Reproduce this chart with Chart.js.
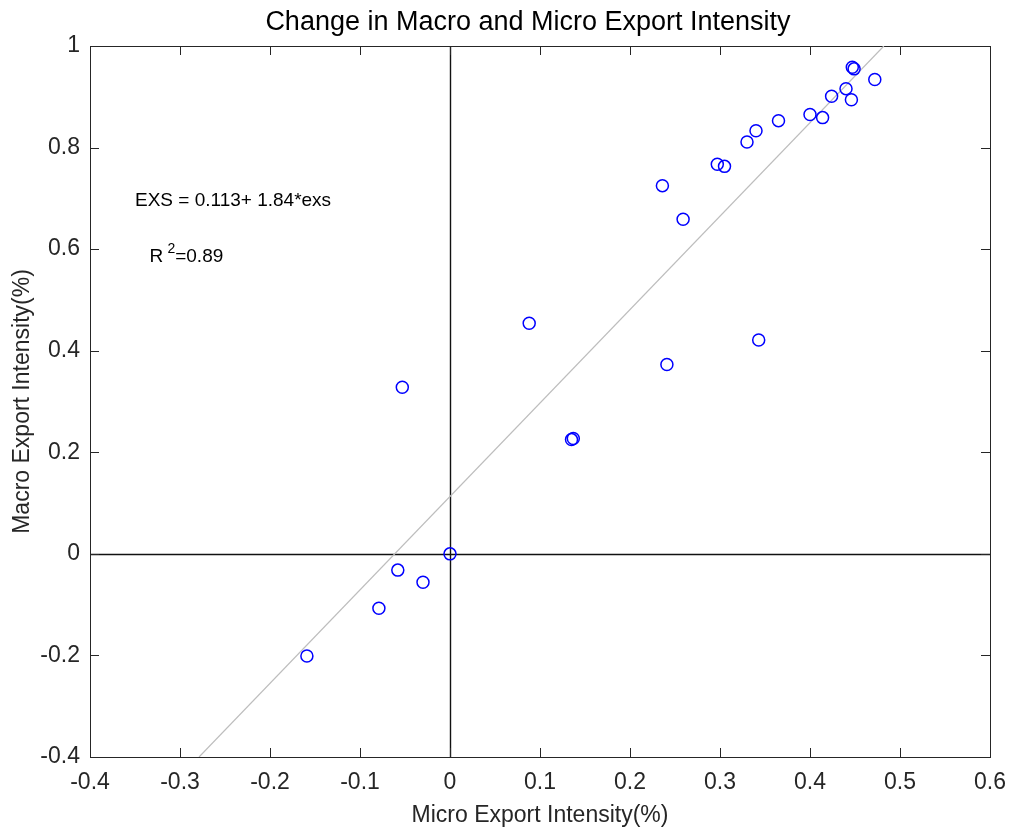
<!DOCTYPE html>
<html lang="en">
  <head>
    <meta charset="utf-8" />
    <title>Change in Macro and Micro Export Intensity</title>
    <style>
      * {
        margin: 0;
        padding: 0;
      }
      body {
        background: #fff;
      }
    </style>
  </head>
  <body>
    <canvas id="myChart" width="1013" height="836"></canvas>

    <script src="https://cdn.jsdelivr.net/npm/chart.js"></script>

    <script>
      // data block
      const microX = [
        0.447, 0.449, 0.472, 0.44, 0.446, 0.424, 0.4, 0.414, 0.365, 0.34, 0.33,
        0.297, 0.305, 0.236, 0.259, 0.088, -0.053, 0.135, 0.137, 0.343, 0.241,
        0, -0.058, -0.03, -0.079, -0.159,
      ];
      const macroY = [
        0.958, 0.955, 0.934, 0.916, 0.894, 0.901, 0.865, 0.859, 0.853, 0.833,
        0.811, 0.767, 0.763, 0.725, 0.659, 0.454, 0.328, 0.225, 0.227, 0.421,
        0.373, 0, -0.032, -0.056, -0.107, -0.201,
      ];
      // fitted line EXS = a + b*exs
      const fitIntercept = 0.113;
      const fitSlope = 1.84;

      const xTicks = [-0.4, -0.3, -0.2, -0.1, 0, 0.1, 0.2, 0.3, 0.4, 0.5, 0.6];
      const xTickLabels = ["-0.4", "-0.3", "-0.2", "-0.1", "0", "0.1", "0.2", "0.3", "0.4", "0.5", "0.6"];
      const yTicks = [-0.4, -0.2, 0, 0.2, 0.4, 0.6, 0.8, 1];
      const yTickLabels = ["-0.4", "-0.2", "0", "0.2", "0.4", "0.6", "0.8", "1"];

      const FONT = "'Liberation Sans', Arial, sans-serif";
      const AXIS_COLOR = "#262626";

      const points = microX.map((x, i) => ({ x, y: macroY[i] }));
      const yMin = yTicks[0];
      const yMax = yTicks[yTicks.length - 1];
      const fitLine = [
        { x: (yMin - fitIntercept) / fitSlope, y: yMin },
        { x: (yMax - fitIntercept) / fitSlope, y: yMax },
      ];

      // frame, zero lines, inward ticks, title and equation text
      const matlabAxes = {
        id: "matlabAxes",
        beforeDatasetsDraw(chart) {
          const {
            ctx,
            chartArea: { left, right, top, bottom },
            scales: { x, y },
          } = chart;
          ctx.save();

          // zero lines
          ctx.strokeStyle = "#111";
          ctx.lineWidth = 1.4;
          ctx.beginPath();
          const x0 = Math.round(x.getPixelForValue(0)) + 0.5;
          const y0 = Math.round(y.getPixelForValue(0)) + 0.5;
          ctx.moveTo(x0, top);
          ctx.lineTo(x0, bottom);
          ctx.moveTo(left, y0);
          ctx.lineTo(right, y0);
          ctx.stroke();

          // box
          ctx.strokeStyle = AXIS_COLOR;
          ctx.lineWidth = 1;
          ctx.strokeRect(left + 0.5, top + 0.5, right - left, bottom - top);

          // ticks pointing in, on all four sides
          const tickLen = 9;
          ctx.beginPath();
          xTicks.forEach((v) => {
            const px = Math.round(x.getPixelForValue(v)) + 0.5;
            ctx.moveTo(px, bottom);
            ctx.lineTo(px, bottom - tickLen);
            ctx.moveTo(px, top);
            ctx.lineTo(px, top + tickLen);
          });
          yTicks.forEach((v) => {
            const py = Math.round(y.getPixelForValue(v)) + 0.5;
            ctx.moveTo(left, py);
            ctx.lineTo(left + tickLen, py);
            ctx.moveTo(right, py);
            ctx.lineTo(right - tickLen, py);
          });
          ctx.stroke();
          ctx.restore();
        },
        afterDatasetsDraw(chart) {
          const {
            ctx,
            chartArea: { left, right, top },
            scales: { x, y },
          } = chart;
          ctx.save();
          ctx.fillStyle = "#000";
          ctx.textBaseline = "middle";

          // title, centred a little left of the axes centre like the source
          ctx.textAlign = "center";
          ctx.font = "27px " + FONT;
          ctx.fillText("Change in Macro and Micro Export Intensity", (left + right) / 2 - 12, top - 23);

          ctx.textAlign = "left";
          ctx.font = "19px " + FONT;
          ctx.fillText(
            "EXS = " + fitIntercept + "+ " + fitSlope + "*exs",
            x.getPixelForValue(-0.35),
            y.getPixelForValue(0.695)
          );

          // R^2 with raised 2
          const rx = x.getPixelForValue(-0.334);
          const ry = y.getPixelForValue(0.585);
          ctx.fillText("R ", rx, ry);
          const rw = ctx.measureText("R ").width;
          ctx.font = "14px " + FONT;
          ctx.fillText("2", rx + rw - 1, ry - 8);
          const tw = ctx.measureText("2").width;
          ctx.font = "19px " + FONT;
          ctx.fillText("=0.89", rx + rw - 1 + tw, ry);
          ctx.restore();
        },
      };

      // config block
      const config = {
        type: "scatter",
        data: {
          datasets: [
            {
              label: "data",
              data: points,
              order: 0,
              pointStyle: "circle",
              pointRadius: 6,
              pointHoverRadius: 6,
              borderColor: "#0000ff",
              backgroundColor: "rgba(0,0,0,0)",
              borderWidth: 1.5,
            },
            {
              label: "fit",
              type: "line",
              data: fitLine,
              order: 1,
              borderColor: "#bdbdbd",
              borderWidth: 1.2,
              pointRadius: 0,
              fill: false,
            },
          ],
        },
        options: {
          responsive: false,
          animation: false,
          layout: {
            padding: { top: 46, right: 23, bottom: 0, left: 0 },
          },
          plugins: {
            legend: { display: false },
            tooltip: { enabled: false },
            title: { display: false },
          },
          scales: {
            x: {
              type: "linear",
              min: xTicks[0],
              max: xTicks[xTicks.length - 1],
              afterBuildTicks: (axis) => {
                axis.ticks = xTicks.map((value) => ({ value }));
              },
              afterFit: (axis) => {
                axis.height = 79;
                axis.paddingLeft = 0;
                axis.paddingRight = 0;
              },
              grid: { display: false, drawTicks: false },
              border: { display: false },
              ticks: {
                color: AXIS_COLOR,
                font: { family: FONT, size: 23 },
                padding: 12,
                maxRotation: 0,
                callback: (v, i) => xTickLabels[i],
              },
              title: {
                display: true,
                text: "Micro Export Intensity(%)",
                color: AXIS_COLOR,
                font: { family: FONT, size: 23 },
                padding: { top: 0, bottom: 7 },
              },
            },
            y: {
              type: "linear",
              min: yMin,
              max: yMax,
              afterBuildTicks: (axis) => {
                axis.ticks = yTicks.map((value) => ({ value }));
              },
              afterFit: (axis) => {
                axis.width = 90;
                axis.paddingTop = 0;
                axis.paddingBottom = 0;
              },
              grid: { display: false, drawTicks: false },
              border: { display: false },
              ticks: {
                color: AXIS_COLOR,
                font: { family: FONT, size: 23 },
                padding: 10,
                callback: (v, i) => yTickLabels[i],
              },
              title: {
                display: true,
                text: "Macro Export Intensity(%)",
                color: AXIS_COLOR,
                font: { family: FONT, size: 23 },
                padding: { top: 9, bottom: 0 },
              },
            },
          },
        },
        plugins: [matlabAxes],
      };

      // init render block
      const myChart = new Chart(document.getElementById("myChart"), config);
    </script>
  </body>
</html>
